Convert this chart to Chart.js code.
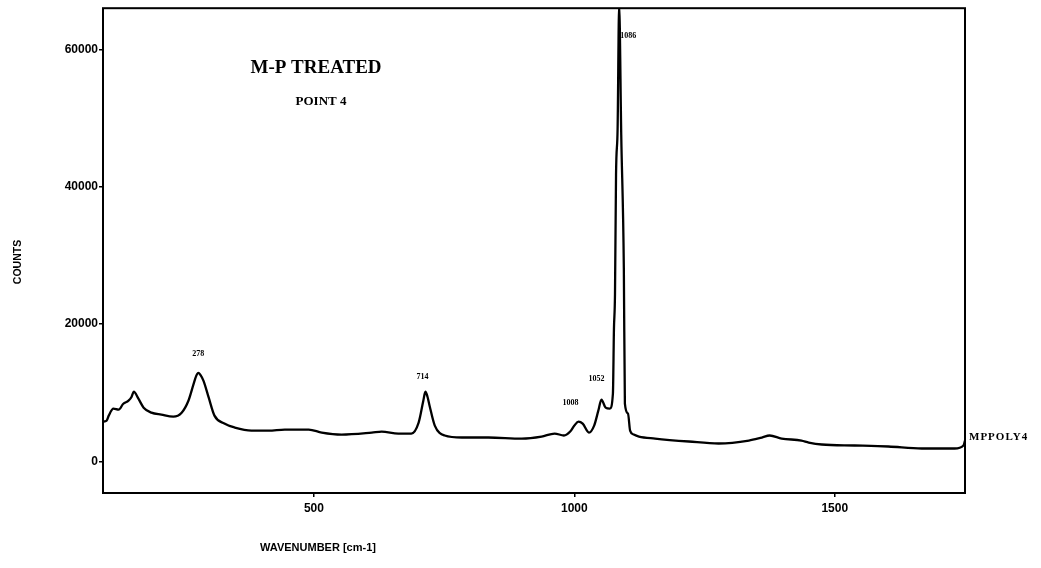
<!DOCTYPE html>
<html>
<head>
<meta charset="utf-8">
<script src="https://cdn.jsdelivr.net/npm/chart.js@4/dist/chart.umd.min.js"></script>
<style>
  html, body { margin: 0; padding: 0; background: #fff; }
  #wrap { position: relative; width: 1041px; height: 568px; }
</style>
</head>
<body>
<div id="wrap"><canvas id="spec"></canvas></div>
<script>
// Raman spectrum, M-P treated sample, point 4
const WAVENUMBER = [95,102,106,115,125,134,144,150,154,163,173,188,207,230,246,259,269,274,278,282,
  288,298,309,328,348,380,413,444,490,515,553,611,630,662,687,701,710,714,718,722,
  732,751,784,835,899,937,962,980,992,1000,1008,1016,1028,1038,1046,1052,1060,1068,1074,1076,
  1078,1080,1083,1086,1090,1095,1097,1103,1107,1114,1124,1155,1220,1277,1335,1360,1375,1398,1436,1450,
  1475,1538,1603,1667,1730,1747,1750];
const COUNTS = [5800,5940,6670,7680,7540,8400,8840,9420,10150,9130,7830,7100,6810,6520,7100,8840,11300,12460,12900,12600,
  11740,9280,6670,5510,4930,4490,4490,4640,4640,4200,3910,4200,4350,4060,4060,5650,8840,10150,9420,8120,
  5220,3770,3480,3480,3330,3620,4060,3770,4350,5220,5800,5500,4200,5220,7390,8990,7830,7680,9860,19280,
  24350,41740,48400,66500,47540,28100,8400,6960,4490,3910,3620,3330,2900,2610,3040,3480,3770,3330,3040,2750,
  2460,2320,2170,1880,1880,2320,3040];

const X_TICKS = [500, 1000, 1500];
const Y_TICKS = [0, 20000, 40000, 60000];
const PEAK_AT = [278, 714, 1008, 1052, 1086];
const PEAK_TEXT = ['278', '714', '1008', '1052', '1086'];

const TITLE = 'M-P TREATED';
const SUBTITLE = 'POINT 4';
const X_TITLE = 'WAVENUMBER [cm-1]';
const Y_TITLE = 'COUNTS';
const TRACE_NAME = 'MPPOLY4';

const SANS = '"Liberation Sans", Arial, sans-serif';
const SERIF = '"Liberation Serif", "Times New Roman", serif';

function countsAt(w) {
  const i = WAVENUMBER.indexOf(w);
  return i >= 0 ? COUNTS[i] : 0;
}

// frame, titles, peak tags and the trace name
const annot = {
  id: 'annot',
  afterDraw(chart) {
    const { ctx, chartArea: a, scales: { x, y } } = chart;
    ctx.save();
    ctx.strokeStyle = '#000';
    ctx.lineWidth = 2;
    ctx.strokeRect(a.left, a.top, a.right - a.left, a.bottom - a.top);

    ctx.fillStyle = '#000';
    ctx.textAlign = 'center';
    ctx.textBaseline = 'middle';
    ctx.font = 'bold 19px ' + SERIF;
    ctx.fillText(TITLE, 316, 68);
    ctx.font = 'bold 13px ' + SERIF;
    ctx.fillText(SUBTITLE, 321, 102);

    ctx.font = 'bold 11px ' + SANS;
    ctx.fillText(X_TITLE, 318, 548);
    ctx.save();
    ctx.translate(18, 262);
    ctx.rotate(-Math.PI / 2);
    ctx.font = 'bold 10.5px ' + SANS;
    ctx.fillText(Y_TITLE, 0, 0);
    ctx.restore();

    // peak tags
    const tweak = { '278': [0, -19], '714': [-3, -15], '1008': [-8, -19], '1052': [-5, -21] };
    ctx.font = 'bold 8px ' + SERIF;
    PEAK_AT.forEach((w, i) => {
      const px = x.getPixelForValue(w);
      const t = PEAK_TEXT[i];
      if (tweak[t]) {
        const py = y.getPixelForValue(countsAt(w));
        ctx.textAlign = 'center';
        ctx.fillText(t, px + tweak[t][0], py + tweak[t][1]);
      } else {
        ctx.textAlign = 'left';
        ctx.fillText(t, px + 1, a.top + 28);
      }
    });

    ctx.textAlign = 'left';
    ctx.font = 'bold 11px ' + SERIF;
    if ('letterSpacing' in ctx) ctx.letterSpacing = '1px';
    ctx.fillText(TRACE_NAME, a.right + 4, 437);
    ctx.restore();
  }
};

new Chart(document.getElementById('spec'), {
  type: 'line',
  data: {
    datasets: [{
      data: WAVENUMBER.map((w, i) => ({ x: w, y: COUNTS[i] })),
      borderColor: '#000',
      borderWidth: 2.3,
      pointRadius: 0,
      cubicInterpolationMode: 'monotone',
      fill: false
    }]
  },
  options: {
    responsive: true,
    maintainAspectRatio: false,
    animation: false,
    layout: { padding: { left: 0, right: 76, top: 6, bottom: 0 } },
    plugins: { legend: { display: false }, tooltip: { enabled: false } },
    scales: {
      x: {
        type: 'linear', min: 95, max: 1750,
        afterFit: s => { s.height = 75; },
        afterBuildTicks: s => { s.ticks = X_TICKS.map(v => ({ value: v })); },
        grid: { drawOnChartArea: false, drawTicks: true, tickLength: 4, color: '#000', lineWidth: 1.5 },
        border: { display: false },
        ticks: { color: '#000', padding: 4, maxRotation: 0, callback: v => String(v),
                 font: { family: SANS, weight: 'bold', size: 12 } }
      },
      y: {
        type: 'linear', min: -4600, max: 66000,
        afterFit: s => { s.width = 103; },
        afterBuildTicks: s => { s.ticks = Y_TICKS.map(v => ({ value: v })); },
        grid: { drawOnChartArea: false, drawTicks: true, tickLength: 4, color: '#000', lineWidth: 1.5 },
        border: { display: false },
        ticks: { color: '#000', padding: 1, callback: v => String(v),
                 font: { family: SANS, weight: 'bold', size: 12 } }
      }
    }
  },
  plugins: [annot]
});
</script>
</body>
</html>
